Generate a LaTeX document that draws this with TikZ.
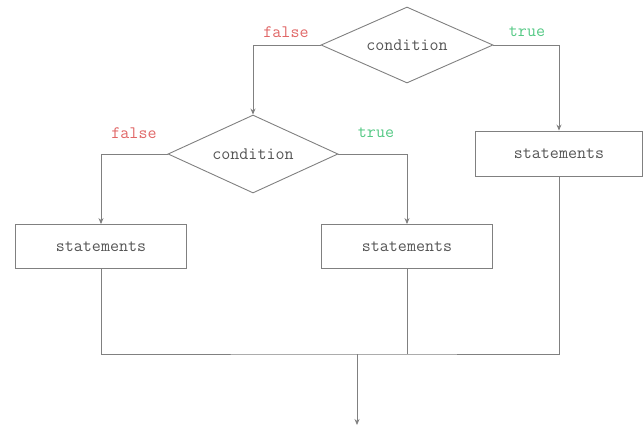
\documentclass[tikz,border=0pt]{standalone}
\usetikzlibrary{shapes.geometric,arrows.meta}
\definecolor{linegray}{HTML}{808080}
\definecolor{txtgray}{HTML}{555555}
\definecolor{falsered}{HTML}{E06666}
\definecolor{truegreen}{HTML}{55C985}
\begin{document}
\begin{tikzpicture}[x=1pt,y=-1pt,
  every node/.style={font=\ttfamily\fontsize{17.5}{20}\selectfont, text=txtgray},
  cond/.style={draw=linegray, line width=0.9pt, shape=diamond, aspect=2.26, inner sep=0pt, minimum width=172pt, minimum height=76pt},
  stbox/.style={draw=linegray, line width=0.9pt, rectangle, inner sep=0pt, minimum width=171pt, minimum height=44pt},
  conn/.style={draw=linegray, line width=0.8pt},
  arr/.style={conn, -{Stealth[length=6pt,width=5pt]}},
  flab/.style={text=falsered},
  tlab/.style={text=truegreen}]
\useasboundingbox (0,0) rectangle (643,432);
\node[cond] (c1) at (407,45) {condition};
\node[cond, minimum width=170pt, minimum height=78pt, aspect=2.18] (c2) at (253,154) {condition};
\node[stbox] (s1) at (101,246.5) {statements};
\node[stbox] (s2) at (407,246.5) {statements};
\node[stbox, minimum width=167pt, minimum height=45pt] (s3) at (559,153.5) {statements};
\node[flab] (f1) at (286,32) {false};
\node[tlab] (t1) at (527,32) {true};
\node[flab] (f2) at (134,133) {false};
\node[tlab] (t2) at (376,133) {true};
\coordinate (m) at (357,354);
\coordinate (e) at (357,425);
\draw[arr] (c1.west) -| (c2.north);
\draw[arr] (c1.east) -| (s3.north);
\draw[arr] (c2.west) -| (s1.north);
\draw[arr] (c2.east) -| (s2.north);
\draw[conn] (s1.south) |- (m) -| (s3.south);
\draw[conn] (s2.south) -- (s2.south |- m);
\draw[arr] (m) -- (e);
\end{tikzpicture}
\end{document}
